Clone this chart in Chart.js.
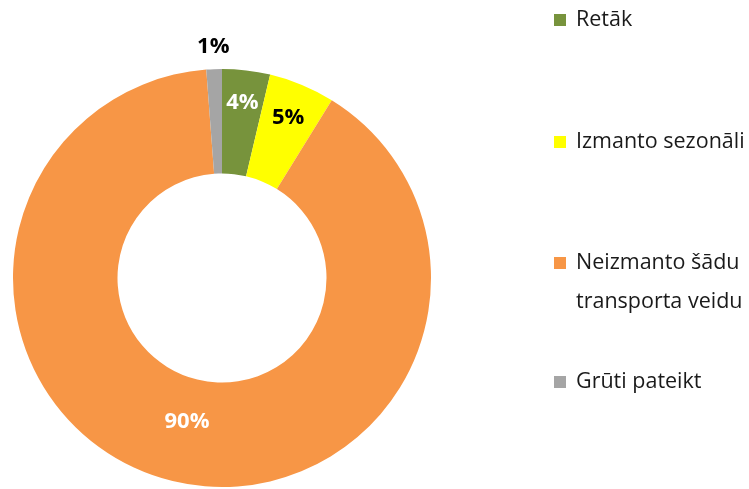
<!DOCTYPE html>
<html>
<head>
<meta charset="utf-8">
<script src="https://cdn.jsdelivr.net/npm/chart.js@4/dist/chart.umd.min.js"></script>
<style>
html,body{margin:0;padding:0;background:#fff;}
#wrap{position:relative;width:749px;height:489px;}
</style>
</head>
<body>
<div id="wrap"><canvas id="c" width="749" height="489"></canvas></div>
<script>
const categories = ["Retāk", "Izmanto sezonāli", "Neizmanto šādu transporta veidu", "Grūti pateikt"];
const values = [3.7, 5.1, 90.0, 1.2];
const valueLabels = ["4%", "5%", "90%", "1%"];
const colors = ["#77933C", "#FFFF00", "#F79646", "#A5A5A5"];
const labelColors = ["#FFFFFF", "#000000", "#FFFFFF", "#000000"];
const labelRadius = [176, 173, 148, 231];

const labelPlugin = {
  id: 'labelsAndLegend',
  afterDraw(chart) {
    const ctx = chart.ctx;
    const meta = chart.getDatasetMeta(0);
    ctx.save();
    ctx.font = "bold 22px 'Open Sans', sans-serif";
    ctx.textAlign = 'center';
    ctx.textBaseline = 'middle';
    meta.data.forEach((arc, i) => {
      const p = arc.getProps(['x','y','startAngle','endAngle'], true);
      const mid = (p.startAngle + p.endAngle) / 2;
      const r = labelRadius[i];
      ctx.fillStyle = labelColors[i];
      ctx.fillText(valueLabels[i], p.x + Math.cos(mid) * r, p.y + Math.sin(mid) * r);
    });
    // legend
    const lx = 554, tx = 576, maxW = 172;
    const rowY = [20, 142, 263, 382];
    ctx.font = "21.5px 'Open Sans', sans-serif";
    ctx.textAlign = 'left';
    categories.forEach((cat, i) => {
      ctx.fillStyle = colors[i];
      ctx.fillRect(lx, rowY[i] - 6, 12, 12);
      ctx.fillStyle = '#1a1a1a';
      const words = cat.split(' ');
      let lines = [], cur = '';
      words.forEach(w => {
        const t = cur ? cur + ' ' + w : w;
        if (ctx.measureText(t).width > maxW && cur) { lines.push(cur); cur = w; } else cur = t;
      });
      lines.push(cur);
      lines.forEach((ln, k) => ctx.fillText(ln, tx, rowY[i] + k * 39));
    });
    ctx.restore();
  }
};

new Chart(document.getElementById('c'), {
  type: 'doughnut',
  data: {
    labels: categories,
    datasets: [{ data: values, backgroundColor: colors, borderWidth: 0 }]
  },
  options: {
    responsive: false,
    animation: false,
    cutout: '50%',
    layout: { padding: { left: 13, top: 69, right: 318, bottom: 2 } },
    plugins: { legend: { display: false }, tooltip: { enabled: false } }
  },
  plugins: [labelPlugin]
});
</script>
</body>
</html>
